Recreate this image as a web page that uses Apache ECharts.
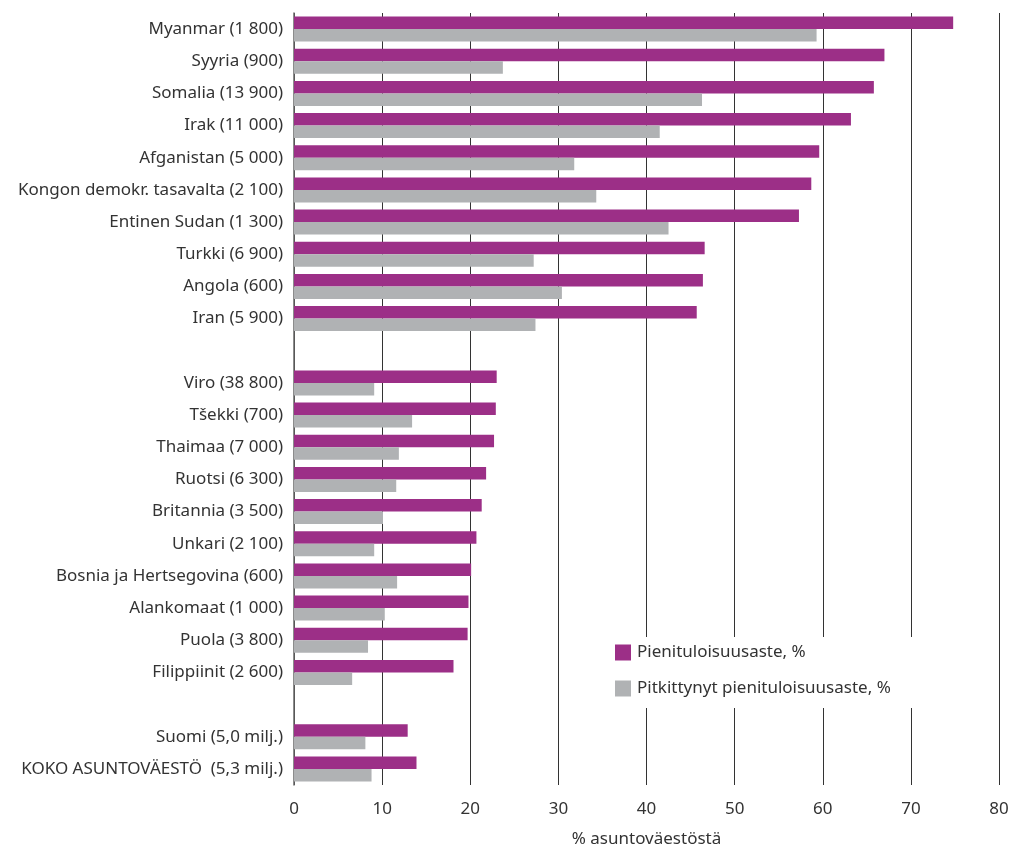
<!DOCTYPE html>
<html>
<head>
<meta charset="utf-8">
<script src="https://cdn.jsdelivr.net/npm/echarts@6/dist/echarts.min.js"></script>
<style>
  html, body { margin: 0; padding: 0; background: #fff; }
  #chart { width: 1011px; height: 849px; }
</style>
</head>
<body>
<div id="chart"></div>
<script>
// categories, top to bottom ('' = empty spacer row)
var categories = [
  'Myanmar (1 800)', 'Syyria (900)', 'Somalia (13 900)', 'Irak (11 000)',
  'Afganistan (5 000)', 'Kongon demokr. tasavalta (2 100)', 'Entinen Sudan (1 300)',
  'Turkki (6 900)', 'Angola (600)', 'Iran (5 900)', '',
  'Viro (38 800)', 'Tšekki (700)', 'Thaimaa (7 000)', 'Ruotsi (6 300)',
  'Britannia (3 500)', 'Unkari (2 100)', 'Bosnia ja Hertsegovina (600)',
  'Alankomaat (1 000)', 'Puola (3 800)', 'Filippiinit (2 600)', '',
  'Suomi (5,0 milj.)', 'KOKO ASUNTOVÄESTÖ  (5,3 milj.)'
];
var pienituloisuus = [
  74.8, 67.0, 65.8, 63.2, 59.6, 58.7, 57.3, 46.6, 46.4, 45.7, '-',
  23.0, 22.9, 22.7, 21.8, 21.3, 20.7, 20.1, 19.8, 19.7, 18.1, '-',
  12.9, 13.9
];
var pitkittynyt = [
  59.3, 23.7, 46.3, 41.5, 31.8, 34.3, 42.5, 27.2, 30.4, 27.4, '-',
  9.1, 13.4, 11.9, 11.6, 10.1, 9.1, 11.7, 10.3, 8.4, 6.6, '-',
  8.1, 8.8
];
var seriesNames = ['Pienituloisuusaste, %', 'Pitkittynyt pienituloisuusaste, %'];

var font = 'Noto Sans';
var myChart = echarts.init(document.getElementById('chart'));
var option = {
  animation: false,
  textStyle: { fontFamily: font },
  grid: { left: 294, right: 12, top: 13, bottom: 64, containLabel: false, outerBoundsMode: 'none' },
  legend: {
    orient: 'vertical',
    left: 605,
    top: 637,
    padding: [7, 22, 11, 10],
    backgroundColor: '#fff',
    itemWidth: 16,
    itemHeight: 16,
    itemGap: 19,
    icon: 'rect',
    textStyle: { fontFamily: font, fontSize: 17, color: '#333', padding: [0, 0, 0, 1] },
    data: seriesNames
  },
  xAxis: {
    type: 'value',
    min: 0,
    max: 80,
    interval: 10,
    name: '% asuntoväestöstä',
    nameLocation: 'middle',
    nameGap: 46,
    nameTextStyle: { fontFamily: font, fontSize: 17, color: '#333' },
    axisLine: { show: false },
    axisTick: { show: false },
    axisLabel: { fontFamily: font, fontSize: 17, color: '#333', margin: 16 },
    splitLine: { show: true, lineStyle: { color: '#333', width: 1 } }
  },
  yAxis: {
    type: 'category',
    inverse: true,
    data: categories,
    axisLine: { show: true, lineStyle: { color: '#666', width: 1.5 } },
    axisTick: { show: false },
    axisLabel: { fontFamily: font, fontSize: 17, color: '#333', margin: 11 },
    splitLine: { show: false }
  },
  series: [{
    name: seriesNames[0],
    type: 'bar',
    data: pienituloisuus,
    barWidth: 12.5,
    barGap: '0%',
    itemStyle: { color: '#9c2f87' }
  }, {
    name: seriesNames[1],
    type: 'bar',
    data: pitkittynyt,
    barWidth: 12.5,
    itemStyle: { color: '#b0b2b4' }
  }]
};
myChart.setOption(option);
</script>
</body>
</html>
